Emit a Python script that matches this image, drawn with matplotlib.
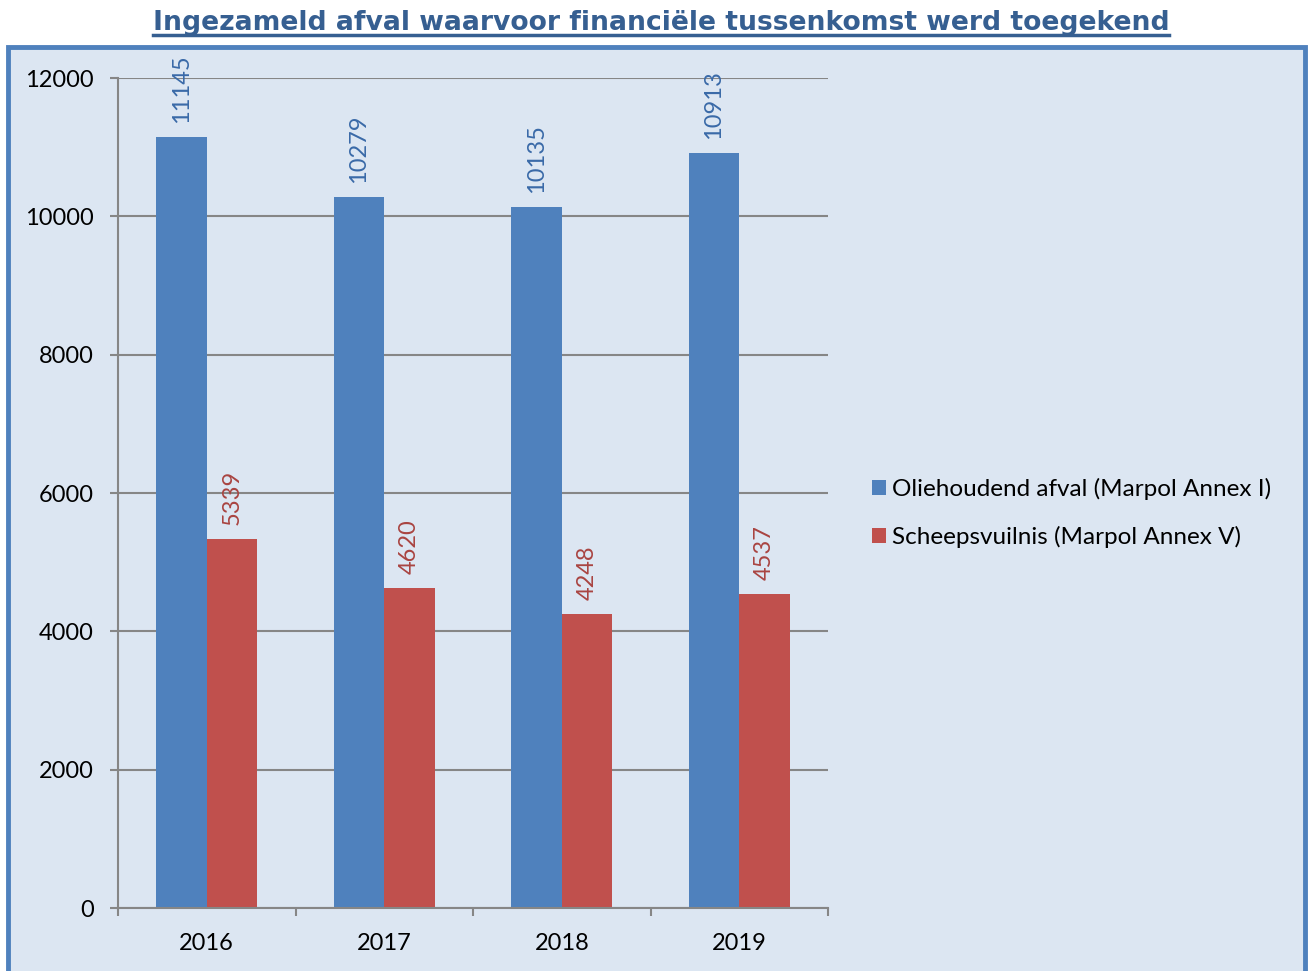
import matplotlib
matplotlib.use("Agg")
import matplotlib.pyplot as plt
from matplotlib.patches import Rectangle, Patch
import numpy as np

title = "Ingezameld afval waarvoor financiële tussenkomst werd toegekend"
years = ["2016", "2017", "2018", "2019"]
series_names = ["Oliehoudend afval (Marpol Annex I)", "Scheepsvuilnis (Marpol Annex V)"]
oil = [11145, 10279, 10135, 10913]
garbage = [5339, 4620, 4248, 4537]
yticks = [0, 2000, 4000, 6000, 8000, 10000, 12000]

W, H = 1311, 971
fig = plt.figure(figsize=(W / 100, H / 100), dpi=100)
fig.patch.set_facecolor("white")

# chart area frame
frame = Rectangle((8 / W, -0.05), (1305 - 8) / W, 1.05 - 47 / H, transform=fig.transFigure,
                  facecolor="#dce6f2", edgecolor="#4f81bd", linewidth=3.5, zorder=-5)
fig.add_artist(frame)

ax = fig.add_axes([118 / W, 1 - 908 / H, (828 - 118) / W, (908 - 78) / H])
ax.set_facecolor("none")
ax.set_zorder(2)

font = "Lato"
blue = "#4f81bd"
red = "#c0504d"
grid = "#868686"

x = np.arange(len(years)) + 0.5
bw = 0.285
ax.bar(x - bw / 2, oil, width=bw, color=blue, zorder=3, label=series_names[0])
ax.bar(x + bw / 2, garbage, width=bw, color=red, zorder=3, label=series_names[1])

for xi, v in zip(x - bw / 2, oil):
    ax.annotate(str(v), (xi, v), xytext=(0, 14), textcoords="offset pixels", rotation=90,
                ha="center", va="bottom", fontsize=17, family=font, color="#3a6aa8")
for xi, v in zip(x + bw / 2, garbage):
    ax.annotate(str(v), (xi, v), xytext=(0, 14), textcoords="offset pixels", rotation=90,
                ha="center", va="bottom", fontsize=17, family=font, color="#a94441")

ax.set_xlim(0, 4)
ax.set_ylim(0, 12000)
ax.set_yticks(yticks)
ax.set_yticklabels([str(t) for t in yticks], fontsize=17, family=font)
ax.set_xticks(x)
ax.set_xticklabels(years, fontsize=17, family=font)
ax.set_xticks([0, 1, 2, 3, 4], minor=True)
ax.tick_params(axis="x", which="major", length=0, pad=18)
ax.tick_params(axis="x", which="minor", length=6, width=1.5, color=grid, direction="out")
ax.tick_params(axis="y", length=6, width=1.5, color=grid, direction="out", pad=11.5)
ax.yaxis.grid(True, color=grid, linewidth=1.5, zorder=1)
ax.set_axisbelow(True)
for s in ["top", "right"]:
    ax.spines[s].set_visible(False)
for s in ["left", "bottom"]:
    ax.spines[s].set_color(grid)
    ax.spines[s].set_linewidth(1.5)
    ax.spines[s].set_zorder(4)

handles = [Patch(facecolor=blue), Patch(facecolor=red)]
fig.legend(handles, series_names, loc="center left", bbox_to_anchor=(862 / W, 1 - 513 / H),
           frameon=False, prop={"family": font, "size": 17.5}, handlelength=0.58, handleheight=0.58,
           handletextpad=0.25, labelspacing=1.08, borderaxespad=0)

t = fig.text(661 / W, 1 - 23 / H, title, ha="center", va="center", fontsize=19.2, fontweight="bold",
             family="DejaVu Sans", color="#365f91")
fig.canvas.draw()
bb = t.get_window_extent()
uy = bb.y0 + 1
fig.add_artist(plt.Line2D([bb.x0 / W, bb.x1 / W], [uy / H, uy / H], transform=fig.transFigure,
                          color="#365f91", linewidth=2.5))

fig.savefig("out.png", dpi=100, facecolor="white")
